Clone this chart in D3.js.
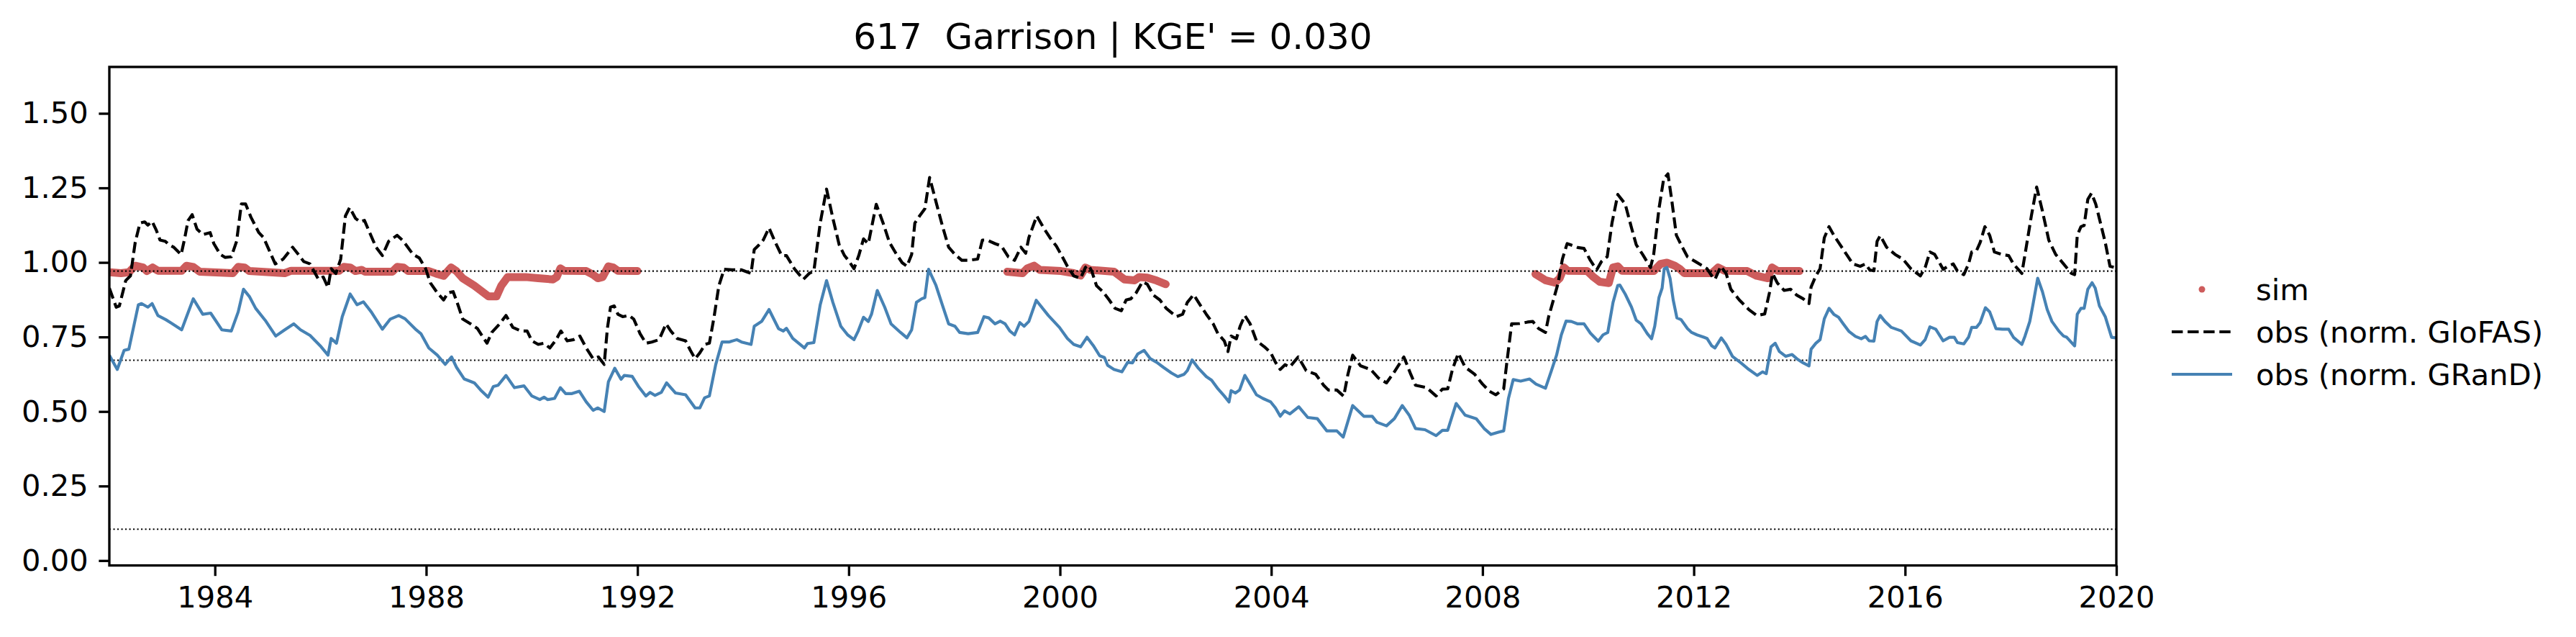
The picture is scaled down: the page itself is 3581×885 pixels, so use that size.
<!DOCTYPE html>
<html>
<head>
<meta charset="utf-8">
<script src="https://cdn.jsdelivr.net/npm/d3@7"></script>
<style>
  html, body { margin: 0; padding: 0; background: #fff; }
  svg { display: block; font-family: "DejaVu Sans", sans-serif; }
</style>
</head>
<body>
<svg id="chart" width="3581" height="885"></svg>
<script>
// ---- data (decimal years / normalised storage) ----
var gloT = [1982.00,1982.13,1982.19,1982.31,1982.40,1982.49,1982.58,1982.67,1982.73,1982.81,1982.89,1982.96,1983.06,1983.13,1983.22,1983.36,1983.43,1983.49,1983.57,1983.66,1983.77,1983.91,1983.98,1984.10,1984.19,1984.31,1984.41,1984.50,1984.58,1984.68,1984.83,1984.92,1985.01,1985.14,1985.29,1985.47,1985.56,1985.68,1985.80,1985.96,1986.05,1986.14,1986.20,1986.29,1986.38,1986.47,1986.55,1986.66,1986.75,1986.83,1986.93,1987.05,1987.17,1987.29,1987.45,1987.57,1987.75,1987.87,1987.99,1988.08,1988.21,1988.33,1988.41,1988.51,1988.60,1988.69,1988.84,1988.97,1989.06,1989.15,1989.24,1989.39,1989.51,1989.64,1989.79,1989.91,1990.00,1990.12,1990.23,1990.34,1990.46,1990.55,1990.67,1990.79,1990.91,1991.03,1991.16,1991.26,1991.37,1991.43,1991.49,1991.56,1991.63,1991.72,1991.84,1991.93,1992.05,1992.16,1992.27,1992.41,1992.54,1992.63,1992.75,1992.91,1993.00,1993.09,1993.18,1993.28,1993.36,1993.45,1993.54,1993.64,1993.79,1993.97,1994.09,1994.15,1994.21,1994.30,1994.38,1994.49,1994.61,1994.73,1994.82,1994.97,1995.14,1995.25,1995.34,1995.46,1995.58,1995.70,1995.82,1995.92,1996.01,1996.10,1996.19,1996.28,1996.37,1996.44,1996.52,1996.65,1996.77,1996.89,1997.01,1997.10,1997.19,1997.25,1997.34,1997.44,1997.53,1997.65,1997.77,1997.89,1998.01,1998.14,1998.26,1998.44,1998.53,1998.62,1998.77,1998.89,1999.02,1999.14,1999.26,1999.35,1999.41,1999.56,1999.69,1999.81,1999.93,2000.02,2000.14,2000.26,2000.39,2000.48,2000.54,2000.60,2000.69,2000.81,2000.93,2001.04,2001.16,2001.25,2001.34,2001.44,2001.56,2001.65,2001.77,2001.89,2002.01,2002.20,2002.32,2002.41,2002.53,2002.65,2002.77,2002.90,2002.99,2003.11,2003.18,2003.24,2003.34,2003.41,2003.50,2003.60,2003.72,2003.87,2003.99,2004.08,2004.17,2004.26,2004.35,2004.51,2004.66,2004.84,2004.99,2005.08,2005.24,2005.37,2005.45,2005.54,2005.69,2005.88,2006.03,2006.18,2006.33,2006.51,2006.64,2006.73,2006.94,2007.12,2007.24,2007.34,2007.43,2007.54,2007.67,2007.85,2008.00,2008.13,2008.25,2008.40,2008.46,2008.55,2008.70,2008.85,2008.95,2009.06,2009.19,2009.25,2009.34,2009.43,2009.51,2009.60,2009.68,2009.80,2009.92,2010.04,2010.16,2010.25,2010.36,2010.45,2010.56,2010.70,2010.82,2010.91,2011.03,2011.18,2011.24,2011.34,2011.43,2011.51,2011.58,2011.67,2011.76,2011.88,2012.03,2012.14,2012.25,2012.34,2012.40,2012.51,2012.61,2012.70,2012.86,2013.04,2013.19,2013.34,2013.43,2013.49,2013.58,2013.71,2013.83,2013.95,2014.07,2014.18,2014.22,2014.31,2014.39,2014.47,2014.56,2014.65,2014.77,2014.89,2015.01,2015.15,2015.25,2015.33,2015.41,2015.47,2015.53,2015.65,2015.81,2015.96,2016.11,2016.29,2016.38,2016.47,2016.56,2016.72,2016.81,2016.91,2016.99,2017.11,2017.20,2017.26,2017.35,2017.42,2017.51,2017.60,2017.69,2017.84,2017.96,2018.05,2018.21,2018.30,2018.39,2018.49,2018.60,2018.72,2018.85,2019.00,2019.15,2019.21,2019.26,2019.33,2019.39,2019.46,2019.53,2019.61,2019.70,2019.79,2019.88,2019.97];
var gloV = [0.914,0.850,0.854,0.939,0.955,1.067,1.132,1.136,1.125,1.138,1.108,1.075,1.071,1.059,1.051,1.026,1.083,1.140,1.160,1.112,1.093,1.100,1.063,1.027,1.017,1.019,1.071,1.196,1.196,1.152,1.100,1.083,1.047,0.995,1.011,1.051,1.031,1.003,0.995,0.943,0.951,0.916,0.979,0.963,1.011,1.156,1.184,1.148,1.136,1.141,1.100,1.051,1.023,1.071,1.091,1.071,1.027,1.015,0.979,0.931,0.898,0.874,0.898,0.902,0.858,0.810,0.794,0.778,0.753,0.729,0.765,0.794,0.822,0.782,0.770,0.770,0.737,0.725,0.729,0.713,0.741,0.770,0.737,0.741,0.753,0.713,0.677,0.683,0.658,0.778,0.850,0.854,0.826,0.818,0.822,0.810,0.761,0.729,0.733,0.741,0.794,0.770,0.745,0.737,0.705,0.677,0.697,0.725,0.729,0.818,0.922,0.977,0.975,0.975,0.967,0.963,1.043,1.059,1.075,1.116,1.067,1.023,1.023,0.979,0.943,0.963,0.971,1.132,1.246,1.148,1.059,1.023,1.003,0.979,1.023,1.079,1.063,1.124,1.195,1.132,1.067,1.031,0.999,0.987,1.027,1.132,1.156,1.180,1.285,1.204,1.124,1.051,1.027,1.007,1.007,1.011,1.075,1.075,1.063,1.055,1.019,1.007,1.051,1.031,1.083,1.156,1.116,1.083,1.055,1.027,0.987,0.955,0.947,0.983,0.991,0.971,0.922,0.902,0.874,0.846,0.838,0.874,0.878,0.898,0.935,0.927,0.890,0.874,0.846,0.818,0.826,0.866,0.892,0.858,0.826,0.794,0.761,0.737,0.701,0.753,0.744,0.786,0.822,0.794,0.737,0.717,0.697,0.665,0.641,0.657,0.649,0.683,0.637,0.625,0.588,0.572,0.572,0.551,0.625,0.689,0.653,0.641,0.612,0.596,0.633,0.683,0.625,0.588,0.580,0.552,0.575,0.576,0.641,0.695,0.649,0.625,0.592,0.568,0.556,0.576,0.665,0.794,0.795,0.800,0.802,0.778,0.765,0.818,0.874,0.931,1.011,1.063,1.058,1.050,1.047,1.007,0.975,1.003,1.019,1.132,1.228,1.196,1.116,1.059,1.027,0.983,1.027,1.180,1.281,1.297,1.212,1.091,1.059,1.019,1.003,0.991,0.979,0.955,0.943,0.987,0.963,0.910,0.874,0.842,0.822,0.827,0.898,0.963,0.931,0.906,0.910,0.890,0.878,0.862,0.918,0.955,0.979,1.083,1.120,1.091,1.059,1.027,0.995,0.987,0.995,0.975,0.972,1.071,1.090,1.051,1.027,1.011,0.979,0.955,0.983,1.035,1.027,0.977,0.987,0.995,0.971,0.959,0.995,1.035,1.039,1.067,1.120,1.091,1.035,1.026,1.023,0.995,0.963,1.059,1.156,1.253,1.172,1.075,1.027,0.995,0.963,0.959,1.091,1.120,1.124,1.212,1.232,1.196,1.132,1.067,0.987,0.983];

var grandT = [1982.00,1982.15,1982.28,1982.37,1982.55,1982.61,1982.73,1982.81,1982.92,1983.07,1983.16,1983.37,1983.59,1983.77,1983.92,1984.13,1984.31,1984.44,1984.54,1984.65,1984.77,1984.95,1985.15,1985.32,1985.49,1985.62,1985.80,1985.99,1986.14,1986.20,1986.30,1986.41,1986.56,1986.69,1986.81,1986.96,1987.17,1987.32,1987.48,1987.60,1987.81,1987.90,1988.05,1988.21,1988.36,1988.48,1988.57,1988.72,1988.91,1989.03,1989.17,1989.27,1989.36,1989.51,1989.67,1989.85,1990.00,1990.15,1990.23,1990.30,1990.43,1990.54,1990.64,1990.76,1990.90,1991.03,1991.16,1991.25,1991.37,1991.45,1991.57,1991.69,1991.75,1991.90,1992.02,1992.16,1992.24,1992.33,1992.45,1992.55,1992.72,1992.91,1993.09,1993.18,1993.27,1993.36,1993.48,1993.60,1993.73,1993.88,1993.97,1994.15,1994.21,1994.35,1994.49,1994.67,1994.76,1994.82,1994.94,1995.16,1995.22,1995.34,1995.46,1995.58,1995.70,1995.85,1995.98,1996.10,1996.18,1996.28,1996.37,1996.43,1996.54,1996.68,1996.80,1996.98,1997.10,1997.19,1997.28,1997.38,1997.44,1997.51,1997.65,1997.77,1997.89,1998.01,1998.10,1998.26,1998.44,1998.56,1998.65,1998.77,1998.87,1998.96,1999.05,1999.14,1999.24,1999.32,1999.41,1999.55,1999.78,1999.99,2000.14,2000.26,2000.39,2000.51,2000.63,2000.75,2000.84,2000.90,2001.02,2001.17,2001.28,2001.37,2001.47,2001.59,2001.71,2001.83,2001.95,2002.11,2002.23,2002.35,2002.41,2002.50,2002.62,2002.77,2002.87,2002.99,2003.11,2003.20,2003.24,2003.32,2003.40,2003.50,2003.60,2003.72,2003.84,2003.99,2004.08,2004.17,2004.25,2004.35,2004.52,2004.69,2004.87,2005.05,2005.24,2005.36,2005.54,2005.75,2005.91,2006.00,2006.18,2006.33,2006.48,2006.61,2006.73,2006.91,2007.12,2007.24,2007.34,2007.50,2007.67,2007.88,2008.03,2008.16,2008.31,2008.40,2008.49,2008.58,2008.72,2008.89,2009.01,2009.19,2009.31,2009.40,2009.49,2009.58,2009.68,2009.80,2009.92,2010.04,2010.19,2010.28,2010.37,2010.47,2010.56,2010.60,2010.70,2010.82,2010.91,2011.00,2011.12,2011.20,2011.26,2011.34,2011.40,2011.44,2011.49,2011.55,2011.61,2011.68,2011.76,2011.88,2011.96,2012.06,2012.19,2012.25,2012.34,2012.40,2012.52,2012.61,2012.73,2012.89,2013.04,2013.20,2013.30,2013.37,2013.46,2013.54,2013.62,2013.74,2013.86,2013.95,2014.07,2014.18,2014.22,2014.31,2014.39,2014.47,2014.56,2014.65,2014.74,2014.83,2014.94,2015.06,2015.17,2015.25,2015.32,2015.41,2015.47,2015.53,2015.62,2015.74,2015.93,2016.11,2016.29,2016.38,2016.47,2016.58,2016.72,2016.84,2016.93,2016.99,2017.11,2017.20,2017.26,2017.35,2017.42,2017.52,2017.60,2017.72,2017.84,2017.96,2018.05,2018.21,2018.27,2018.36,2018.42,2018.51,2018.60,2018.69,2018.78,2018.91,2019.00,2019.06,2019.21,2019.26,2019.33,2019.39,2019.46,2019.54,2019.60,2019.68,2019.79,2019.91,2019.99];
var grandV = [0.689,0.641,0.705,0.709,0.858,0.862,0.850,0.862,0.822,0.808,0.798,0.774,0.878,0.826,0.830,0.774,0.770,0.834,0.910,0.886,0.846,0.806,0.753,0.774,0.794,0.774,0.755,0.721,0.689,0.745,0.729,0.818,0.894,0.858,0.868,0.834,0.776,0.810,0.822,0.811,0.774,0.761,0.713,0.689,0.658,0.683,0.649,0.609,0.596,0.572,0.548,0.584,0.588,0.621,0.580,0.586,0.552,0.540,0.548,0.540,0.544,0.580,0.560,0.560,0.568,0.532,0.504,0.512,0.500,0.600,0.645,0.608,0.621,0.618,0.584,0.552,0.564,0.554,0.564,0.596,0.562,0.556,0.512,0.512,0.546,0.552,0.657,0.733,0.733,0.741,0.733,0.725,0.786,0.802,0.842,0.778,0.770,0.779,0.745,0.713,0.728,0.731,0.858,0.939,0.866,0.786,0.757,0.741,0.770,0.816,0.802,0.826,0.906,0.850,0.794,0.765,0.747,0.774,0.866,0.878,0.882,0.977,0.923,0.858,0.794,0.786,0.765,0.761,0.765,0.818,0.814,0.794,0.803,0.794,0.770,0.757,0.798,0.786,0.802,0.873,0.822,0.782,0.745,0.725,0.717,0.749,0.721,0.687,0.681,0.655,0.641,0.633,0.665,0.663,0.693,0.705,0.677,0.665,0.649,0.629,0.617,0.625,0.637,0.673,0.645,0.617,0.605,0.576,0.552,0.532,0.570,0.562,0.572,0.621,0.592,0.556,0.544,0.532,0.512,0.484,0.502,0.492,0.516,0.480,0.476,0.435,0.435,0.414,0.520,0.484,0.484,0.464,0.452,0.476,0.520,0.488,0.443,0.439,0.419,0.437,0.437,0.527,0.488,0.476,0.443,0.423,0.431,0.435,0.544,0.607,0.602,0.609,0.592,0.578,0.641,0.689,0.757,0.803,0.802,0.794,0.794,0.763,0.736,0.757,0.765,0.866,0.923,0.924,0.894,0.850,0.806,0.794,0.761,0.744,0.786,0.882,0.914,0.979,0.983,0.947,0.874,0.814,0.808,0.778,0.765,0.757,0.749,0.745,0.720,0.713,0.747,0.725,0.685,0.663,0.641,0.621,0.633,0.627,0.717,0.729,0.701,0.685,0.691,0.677,0.663,0.653,0.709,0.729,0.741,0.811,0.846,0.826,0.816,0.794,0.768,0.752,0.744,0.752,0.737,0.736,0.802,0.822,0.802,0.782,0.770,0.737,0.723,0.741,0.784,0.776,0.737,0.749,0.749,0.731,0.727,0.749,0.782,0.782,0.798,0.848,0.834,0.778,0.776,0.776,0.749,0.725,0.753,0.802,0.858,0.947,0.902,0.842,0.802,0.770,0.753,0.749,0.720,0.826,0.846,0.846,0.910,0.932,0.914,0.854,0.818,0.749,0.747];

// sim: three periods, null marks a gap
var simT = [1982.00,1982.22,1982.37,1982.49,1982.64,1982.71,1982.82,1982.92,1983.37,1983.46,1983.59,1983.71,1984.34,1984.44,1984.56,1984.65,1985.32,1985.44,1986.35,1986.44,1986.56,1986.66,1986.78,1986.84,1987.36,1987.45,1987.57,1987.66,1988.05,1988.18,1988.33,1988.47,1988.57,1988.69,1988.91,1989.09,1989.18,1989.33,1989.42,1989.54,1989.88,1990.12,1990.40,1990.47,1990.54,1990.61,1991.03,1991.16,1991.25,1991.34,1991.45,1991.54,1991.63,1992.00,null,
  1999.00,1999.29,1999.38,1999.51,1999.62,2000.02,2000.26,2000.39,2000.48,2000.57,2001.02,2001.22,2001.41,2001.50,2001.65,2001.83,2002.00,null,
  2009.00,2009.19,2009.37,2009.46,2009.54,2009.61,2009.98,2010.10,2010.22,2010.39,2010.47,2010.56,2010.64,2011.24,2011.37,2011.49,2011.64,2011.73,2011.82,2012.34,2012.46,2012.58,2013.01,2013.19,2013.40,2013.48,2013.58,2014.00];
var simV = [0.967,0.964,0.967,0.989,0.983,0.971,0.983,0.972,0.972,0.989,0.985,0.969,0.964,0.985,0.983,0.971,0.964,0.972,0.972,0.985,0.983,0.971,0.975,0.969,0.969,0.985,0.983,0.971,0.971,0.963,0.955,0.983,0.971,0.947,0.922,0.898,0.886,0.886,0.922,0.951,0.951,0.947,0.943,0.951,0.980,0.972,0.971,0.959,0.947,0.951,0.987,0.983,0.972,0.971,null,
  0.969,0.964,0.980,0.989,0.975,0.971,0.964,0.956,0.983,0.975,0.969,0.943,0.940,0.951,0.949,0.939,0.927,null,
  0.961,0.940,0.932,0.947,0.983,0.972,0.971,0.951,0.935,0.931,0.983,0.987,0.972,0.971,0.995,0.999,0.989,0.979,0.964,0.964,0.983,0.972,0.971,0.955,0.947,0.983,0.972,0.971];

var refLevels = [0.971, 0.672, 0.105];
var yTickValues = [0, 0.25, 0.5, 0.75, 1.0, 1.25, 1.5];
var xTickYears = [1984, 1988, 1992, 1996, 2000, 2004, 2008, 2012, 2016, 2020];
var title = "617  Garrison | KGE' = 0.030";
var legendLabels = ["sim", "obs (norm. GloFAS)", "obs (norm. GRanD)"];

// ---- helpers ----
function toDate(t) {
  var yr = Math.floor(t),
      a = Date.UTC(yr, 0, 1),
      b = Date.UTC(yr + 1, 0, 1);
  return new Date(a + (t - yr) * (b - a));
}
function zip(ts, vs) {
  return ts.map(function(t, i) { return {t: t == null ? null : toDate(t), v: vs[i]}; });
}

var FONT = 41.67;
var plotL = 152, plotT = 93, plotR = 2942, plotB = 785.6;

var svg = d3.select('#chart');

var x = d3.scaleUtc()
    .domain([toDate(1982), toDate(2020)])
    .range([plotL, plotR]);
var y = d3.scaleLinear()
    .domain([-0.0164, 1.6557])
    .range([plotB, plotT]);

svg.append('defs').append('clipPath').attr('id', 'plotclip')
  .append('rect')
    .attr('x', plotL).attr('y', plotT)
    .attr('width', plotR - plotL).attr('height', plotB - plotT);

var plot = svg.append('g').attr('clip-path', 'url(#plotclip)');

var line = d3.line()
    .defined(function(d) { return d.v != null; })
    .x(function(d) { return x(d.t); })
    .y(function(d) { return y(d.v); });

// sim, drawn as a thick dotted trace
plot.append('path')
    .datum(zip(simT, simV))
    .attr('d', line)
    .attr('fill', 'none')
    .attr('stroke', '#cd5c5c')
    .attr('stroke-width', 11)
    .attr('stroke-linecap', 'round')
    .attr('stroke-linejoin', 'round');

// reference levels
plot.selectAll('.ref')
    .data(refLevels)
  .enter().append('line')
    .attr('class', 'ref')
    .attr('x1', plotL).attr('x2', plotR)
    .attr('y1', function(d) { return y(d); })
    .attr('y2', function(d) { return y(d); })
    .attr('stroke', '#000')
    .attr('stroke-width', 2.08)
    .attr('stroke-dasharray', '2.08,3.43');

plot.append('path')
    .datum(zip(gloT, gloV))
    .attr('d', line)
    .attr('fill', 'none')
    .attr('stroke', '#000')
    .attr('stroke-width', 4.17)
    .attr('stroke-dasharray', '15.4,6.7')
    .attr('stroke-linejoin', 'round');

plot.append('path')
    .datum(zip(grandT, grandV))
    .attr('d', line)
    .attr('fill', 'none')
    .attr('stroke', '#4682b4')
    .attr('stroke-width', 4.17)
    .attr('stroke-linejoin', 'round');

// axes
var yAxis = d3.axisLeft(y)
    .tickValues(yTickValues)
    .tickFormat(d3.format('.2f'))
    .tickSize(14.6)
    .tickPadding(14.6);
var xAxis = d3.axisBottom(x)
    .tickValues(xTickYears.map(toDate))
    .tickFormat(d3.utcFormat('%Y'))
    .tickSize(14.6)
    .tickPadding(14.6);

function styleAxis(g) {
  g.select('.domain').remove();
  g.selectAll('.tick line').attr('stroke', '#000').attr('stroke-width', 3.33);
  g.selectAll('.tick text')
      .attr('fill', '#000')
      .style('font-size', FONT + 'px')
      .style('font-family', '"DejaVu Sans", sans-serif');
}

svg.append('g')
    .attr('transform', 'translate(' + plotL + ',0)')
    .call(yAxis)
    .call(styleAxis);
svg.append('g')
    .attr('transform', 'translate(0,' + plotB + ')')
    .call(xAxis)
    .call(styleAxis);

// frame
svg.append('rect')
    .attr('x', plotL).attr('y', plotT)
    .attr('width', plotR - plotL).attr('height', plotB - plotT)
    .attr('fill', 'none')
    .attr('stroke', '#000')
    .attr('stroke-width', 3.33);

// title
svg.append('text')
    .attr('x', (plotL + plotR) / 2)
    .attr('y', 68)
    .attr('text-anchor', 'middle')
    .style('font-size', '50px')
    .style('white-space', 'pre')
    .text(title);

// legend
var lg = svg.append('g').attr('transform', 'translate(3019,402)');
var rowH = 59;
lg.append('circle')
    .attr('cx', 42).attr('cy', 0).attr('r', 4.5)
    .attr('fill', '#cd5c5c');
lg.append('line')
    .attr('x1', 0).attr('x2', 84).attr('y1', rowH).attr('y2', rowH)
    .attr('stroke', '#000').attr('stroke-width', 4.17)
    .attr('stroke-dasharray', '15.4,6.7');
lg.append('line')
    .attr('x1', 0).attr('x2', 84).attr('y1', 2 * rowH).attr('y2', 2 * rowH)
    .attr('stroke', '#4682b4').attr('stroke-width', 4.17);
lg.selectAll('.lbl')
    .data(legendLabels)
  .enter().append('text')
    .attr('class', 'lbl')
    .attr('x', 117)
    .attr('y', function(d, i) { return i * rowH; })
    .attr('dy', '0.35em')
    .style('font-size', FONT + 'px')
    .text(function(d) { return d; });
</script>
</body>
</html>
